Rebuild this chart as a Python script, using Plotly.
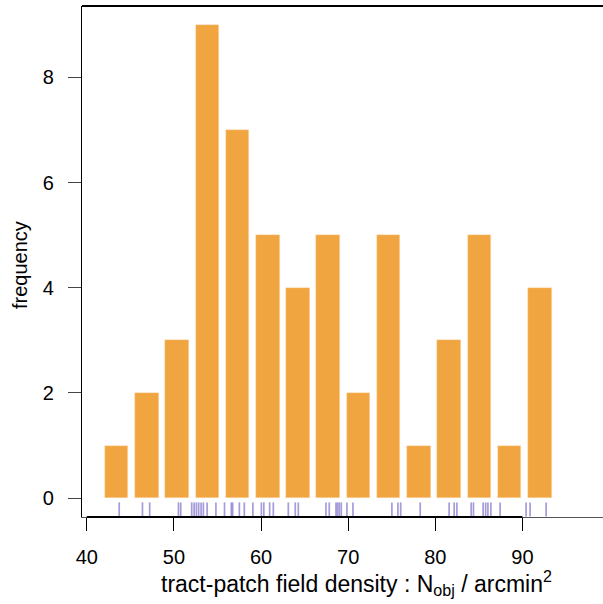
import plotly.graph_objects as go

# Histogram bins (centres) and counts
bin_centers = [43.42, 46.89, 50.36, 53.83, 57.30, 60.77, 64.24, 67.71,
               71.18, 74.65, 78.12, 81.59, 85.06, 88.53, 92.00]
counts = [1, 2, 3, 9, 7, 5, 4, 5, 2, 5, 1, 3, 5, 1, 4]
bar_width = 2.70

# Individual observations (rug)
rug_values = [43.72, 46.39, 47.22, 50.52, 50.78, 52.04, 52.32, 52.58, 52.84,
              53.12, 53.38, 53.81, 54.82, 55.81, 56.59, 56.74, 57.51, 58.08,
              59.06, 60.04, 60.32, 60.99, 61.41, 63.13, 63.93, 64.28, 67.45,
              67.83, 68.60, 68.78, 68.98, 69.21, 69.86, 70.55, 75.02, 75.71,
              76.03, 78.27, 81.59, 82.17, 82.48, 84.12, 84.38, 85.49, 85.78,
              86.04, 86.38, 87.44, 90.42, 90.88, 92.72]
rug_top, rug_bottom = -0.08, -0.35

x_ticks = [40, 50, 60, 70, 80, 90]
y_ticks = [0, 2, 4, 6, 8]

x_title = "tract-patch field density : N<sub>obj</sub> / arcmin<sup>2</sup>"
y_title = "frequency"

FONT = "Liberation Sans, Arial, sans-serif"

fig = go.Figure()
fig.add_trace(go.Bar(
    x=bin_centers, y=counts, width=bar_width,
    marker=dict(color="rgb(240,165,65)", line=dict(color="rgba(255,230,200,0.6)", width=0.6)),
    showlegend=False,
))

rx, ry = [], []
for v in rug_values:
    rx += [v, v, None]
    ry += [rug_top, rug_bottom, None]
fig.add_trace(go.Scatter(
    x=rx, y=ry, mode="lines",
    line=dict(color="rgba(110,96,195,0.62)", width=1.7),
    showlegend=False, hoverinfo="skip",
))

fig.update_layout(
    width=603, height=604,
    margin=dict(l=82, r=0, t=6, b=87),
    plot_bgcolor="white", paper_bgcolor="white",
    font=dict(family=FONT, size=20, color="black"),
    bargap=0,
    xaxis=dict(
        range=[39.45, 99.25], tickvals=x_ticks,
        ticks="outside", ticklen=13, tickwidth=1.3, tickcolor="black",
        showgrid=False, zeroline=False,
        showline=True, linecolor="#555", linewidth=1.3,
        ticklabelstandoff=9,
        automargin=False,
    ),
    yaxis=dict(
        range=[-0.358, 9.356], tickvals=y_ticks,
        ticks="outside", ticklen=13, tickwidth=1.3, tickcolor="#444",
        showgrid=False, zeroline=False,
        showline=True, linecolor="black", linewidth=1.3,
        ticklabelstandoff=10,
        automargin=False,
    ),
    shapes=[
        dict(type="line", xref="x", yref="paper", x0=40, x1=90, y0=0, y1=0,
             line=dict(color="black", width=2)),
        dict(type="line", xref="paper", yref="paper", x0=0, x1=1, y0=1, y1=1,
             line=dict(color="black", width=1.8)),
    ],
    annotations=[
        dict(text=x_title, xref="paper", yref="paper", x=0.526, y=-0.13,
             xanchor="center", yanchor="middle", showarrow=False,
             font=dict(size=23)),
        dict(text=y_title, xref="paper", yref="paper", x=-0.119, y=0.493,
             xanchor="center", yanchor="middle", textangle=-90, showarrow=False,
             font=dict(size=20)),
    ],
)

fig.write_html("out.html")
